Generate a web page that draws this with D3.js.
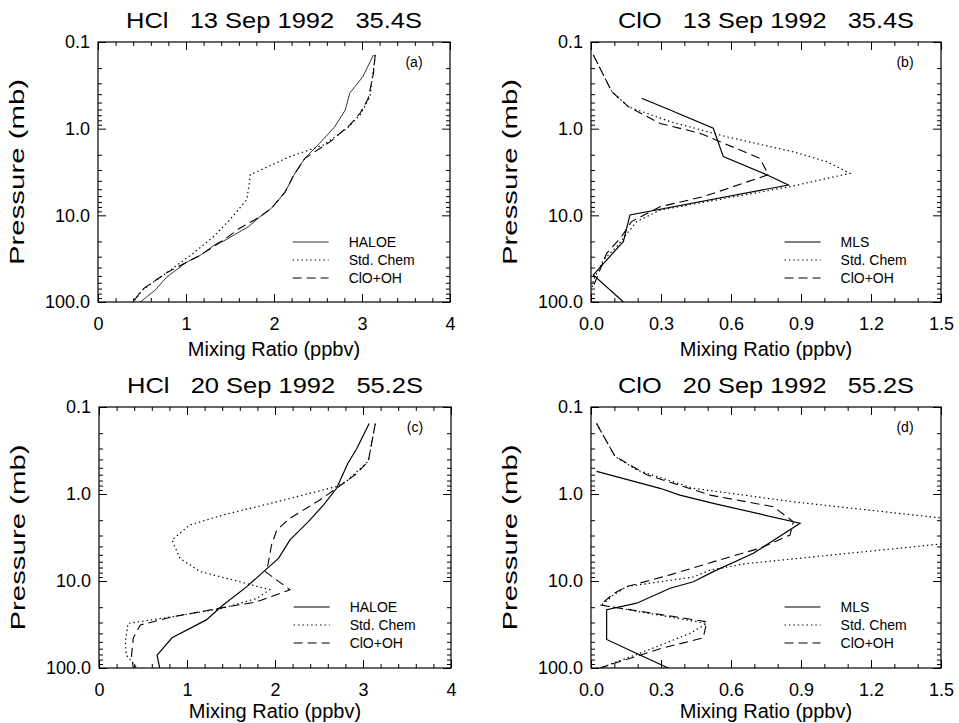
<!DOCTYPE html>
<html>
<head>
<meta charset="utf-8">
<script src="https://cdn.jsdelivr.net/npm/d3@7"></script>
<style>
  body { margin: 0; background: #fff; }
  svg text { font-family: "Liberation Sans", Arial, Helvetica, sans-serif; fill: #000; }
</style>
</head>
<body>
<div id="chart"></div>
<script>
// values are [mixing ratio (ppbv), pressure (mb)]
const hcl13Haloe = [[3.13,0.141],[3.01,0.251],[2.86,0.39],[2.81,0.61],[2.69,0.95],[2.52,1.47],[2.35,2.2],[2.22,3.5],[2.18,4.25],[2.125,5.4],[1.97,8.3],[1.84,10.4],[1.71,13.5],[1.42,20],[1.35,21],[1.16,29],[1.01,34.6],[0.78,51.6],[0.65,72.9],[0.48,100]];
const hcl13Std = [[3.15,0.141],[3.09,0.43],[2.98,0.69],[2.83,0.99],[2.56,1.55],[2.18,2.1],[1.73,3.4],[1.72,4.25],[1.69,6.6],[1.5,11.2],[1.31,17.7],[1.08,27.5],[0.78,46],[0.51,72],[0.40,100]];
const hcl13Cloh = [[3.15,0.141],[3.13,0.23],[3.07,0.45],[2.98,0.66],[2.86,0.91],[2.64,1.41],[2.35,2.2],[2.22,3.5],[2.125,5.4],[1.97,8.3],[1.84,10.4],[1.61,14.1],[1.42,19.5],[1.16,29],[1.01,34.6],[0.78,46],[0.50,72],[0.40,100]];

const clo13Mls = [[0.217,0.446],[0.339,0.61],[0.524,0.99],[0.567,2.1],[0.753,3.4],[0.846,4.47],[0.167,9.9],[0.139,20],[0.01,48.6],[0.139,100]];
const clo13Std = [[0.01,0.141],[0.089,0.374],[0.16,0.557],[0.339,0.83],[0.581,1.24],[0.867,1.85],[1.01,2.4],[1.11,3.27],[0.853,4.67],[0.296,8.7],[0.196,11.8],[0.16,15.5],[0.11,23],[0.053,32.7],[0.01,56],[0.005,69]];
const clo13Cloh = [[0.01,0.141],[0.089,0.374],[0.16,0.557],[0.296,0.87],[0.467,1.13],[0.724,2.2],[0.746,2.86],[0.76,3.4],[0.481,6.1],[0.296,7.95],[0.174,11.8],[0.131,17.6],[0.067,27.5],[0.01,66]];

const hcl20Haloe = [[3.07,0.155],[2.93,0.30],[2.83,0.44],[2.70,0.86],[2.55,1.34],[2.38,2.08],[2.17,3.37],[2.04,5.5],[1.87,7.8],[1.68,11.6],[1.41,18.9],[1.22,28],[0.83,45],[0.66,71],[0.69,100]];
const hcl20Std = [[3.14,0.155],[3.06,0.42],[2.81,0.72],[2.70,0.82],[2.02,1.23],[1.41,1.74],[1.03,2.27],[0.83,3.37],[0.92,5.5],[1.15,7.8],[1.60,10.2],[1.94,12.6],[1.79,15.9],[1.41,20.5],[0.84,25.7],[0.33,30.7],[0.30,50],[0.31,71],[0.43,100]];
const hcl20Cloh = [[3.14,0.155],[3.06,0.42],[2.93,0.58],[2.70,0.86],[2.51,1.17],[2.17,1.9],[2.02,2.6],[1.96,3.86],[1.92,6.5],[1.89,7.8],[2.17,12.6],[1.79,17.4],[1.375,20.5],[0.84,25.7],[0.47,32],[0.39,45],[0.37,71],[0.39,100]];

const clo20Mls = [[0.024,0.55],[0.296,0.86],[0.381,1.03],[0.524,1.28],[0.896,2.17],[0.696,4.8],[0.524,7.8],[0.439,10.2],[0.339,12.1],[0.196,18],[0.067,21.4],[0.067,47],[0.196,68],[0.331,100]];
const clo20Std = [[0.024,0.155],[0.103,0.37],[0.196,0.53],[0.439,0.86],[0.867,1.23],[1.32,1.67],[2.03,2.69],[1.32,4.2],[0.667,6.3],[0.51,7.5],[0.439,9.0],[0.296,10.2],[0.153,11.6],[0.096,14.5],[0.046,18.9],[0.496,30.8],[0.424,40],[0.281,57],[0.153,77],[0.039,100]];
const clo20Cloh = [[0.024,0.155],[0.103,0.37],[0.239,0.6],[0.51,1.03],[0.781,1.4],[0.867,2.08],[0.853,2.96],[0.724,4.2],[0.553,5.7],[0.339,8.5],[0.153,11.6],[0.096,14],[0.039,18.9],[0.496,29.4],[0.481,45],[0.296,60],[0.039,100]];

const titles = ["HCl   13 Sep 1992   35.4S", "ClO   13 Sep 1992   35.4S", "HCl   20 Sep 1992   55.2S", "ClO   20 Sep 1992   55.2S"];
const panelTags = ["(a)", "(b)", "(c)", "(d)"];
const hclTicks = [0, 1, 2, 3, 4];
const cloTicks = [0, 0.3, 0.6, 0.9, 1.2, 1.5];
const pressureTicks = [0.1, 1, 10, 100];
const hclNames = ["HALOE", "Std. Chem", "ClO+OH"];
const cloNames = ["MLS", "Std. Chem", "ClO+OH"];

function init() {
    let w = 959;
    let h = 723;

    let svg = d3.select("#chart")
        .append("svg")
        .attr("width", w)
        .attr("height", h);

    const styles = [
        { dash: null, width: 1.1 },
        { dash: "1.4,3", width: 1.2 },
        { dash: "9,5", width: 1.1 }
    ];

    const panels = [
        { x0: 98, x1: 450, y0: 42, y1: 302, max: 4, ticks: hclTicks, fmt: d3.format("d"), step: 0.2, names: hclNames, series: [hcl13Haloe, hcl13Std, hcl13Cloh], solidW: 0.8, xt: 54 },
        { x0: 591, x1: 941, y0: 42, y1: 302, max: 1.5, ticks: cloTicks, fmt: d3.format(".1f"), step: 0.1, names: cloNames, series: [clo13Mls, clo13Std, clo13Cloh], solidW: 1.2, xt: 54 },
        { x0: 99, x1: 451, y0: 407, y1: 668, max: 4, ticks: hclTicks, fmt: d3.format("d"), step: 0.2, names: hclNames, series: [hcl20Haloe, hcl20Std, hcl20Cloh], solidW: 1.2, xt: 50 },
        { x0: 591, x1: 941, y0: 407, y1: 668, max: 1.5, ticks: cloTicks, fmt: d3.format(".1f"), step: 0.1, names: cloNames, series: [clo20Mls, clo20Std, clo20Cloh], solidW: 1.2, xt: 50 }
    ];

    // minor log ticks 2..9 in each decade
    let minorP = [];
    [0.1, 1, 10].forEach(function (dec) {
        for (let k = 2; k <= 9; k++) minorP.push(dec * k);
    });

    panels.forEach(function (p, i) {
        let x = d3.scaleLinear().domain([0, p.max]).range([p.x0, p.x1]);
        let y = d3.scaleLog().domain([0.1, 100]).range([p.y0, p.y1]);
        let minorX = d3.range(0, p.max + 1e-9, p.step).filter(function (v) {
            return !p.ticks.some(function (t) { return Math.abs(t - v) < 1e-6; });
        });

        let g = svg.append("g");

        // clip for curves
        svg.append("clipPath").attr("id", "clip" + i)
            .append("rect")
            .attr("x", p.x0).attr("y", p.y0)
            .attr("width", p.x1 - p.x0).attr("height", p.y1 - p.y0);

        // axes: inner ticks on all four sides
        function ax(axisFn, scale, vals, size, pos, labels, fmt, pad) {
            let a = axisFn(scale).tickValues(vals).tickSizeInner(-size).tickSizeOuter(0).tickPadding(pad || 8);
            a.tickFormat(labels ? fmt : "");
            let sel = g.append("g").attr("transform", pos).call(a);
            sel.select(".domain").remove();
            sel.selectAll("line").attr("stroke", "#000").attr("stroke-width", 1);
            sel.selectAll("text").attr("font-size", "18px").attr("fill", "#000");
            return sel;
        }
        ax(d3.axisBottom, x, minorX, 4, "translate(0," + p.y1 + ")", false);
        ax(d3.axisBottom, x, p.ticks, 8, "translate(0," + p.y1 + ")", true, p.fmt, 15);
        ax(d3.axisTop, x, minorX, 4, "translate(0," + p.y0 + ")", false);
        ax(d3.axisTop, x, p.ticks, 8, "translate(0," + p.y0 + ")", false);
        ax(d3.axisLeft, y, minorP, 4, "translate(" + p.x0 + ",0)", false);
        ax(d3.axisLeft, y, pressureTicks, 8, "translate(" + p.x0 + ",0)", true, d3.format(".1f"), 8);
        ax(d3.axisRight, y, minorP, 4, "translate(" + p.x1 + ",0)", false);
        ax(d3.axisRight, y, pressureTicks, 8, "translate(" + p.x1 + ",0)", false);

        g.append("rect")
            .attr("x", p.x0).attr("y", p.y0)
            .attr("width", p.x1 - p.x0).attr("height", p.y1 - p.y0)
            .attr("fill", "none").attr("stroke", "#000").attr("stroke-width", 1.2);

        let line = d3.line()
            .x(function (d) { return x(d[0]); })
            .y(function (d) { return y(d[1]); });

        p.series.forEach(function (s, k) {
            g.append("path")
                .attr("d", line(s))
                .attr("clip-path", "url(#clip" + i + ")")
                .attr("fill", "none")
                .attr("stroke", "#000")
                .attr("stroke-width", k == 0 ? p.solidW : styles[k].width)
                .attr("stroke-dasharray", styles[k].dash);
        });

        // legend
        let lx = p.x0 + 0.553 * (p.x1 - p.x0);
        p.names.forEach(function (name, k) {
            let ly = p.y0 + 200 + k * 18;
            g.append("line")
                .attr("x1", lx).attr("x2", lx + 36)
                .attr("y1", ly).attr("y2", ly)
                .attr("stroke", "#000")
                .attr("stroke-width", k == 0 ? p.solidW : styles[k].width)
                .attr("stroke-dasharray", styles[k].dash);
            g.append("text")
                .attr("x", lx + 56).attr("y", ly + 5)
                .attr("font-size", "14px")
                .text(name);
        });

        g.append("text")
            .attr("x", p.x1 - 36).attr("y", p.y0 + 25)
            .attr("text-anchor", "middle")
            .attr("font-size", "14px")
            .text(panelTags[i]);

        // titles
        g.append("text")
            .attr("x", (p.x0 + p.x1) / 2).attr("y", p.y0 - 14)
            .attr("text-anchor", "middle")
            .attr("font-size", "22px")
            .style("white-space", "pre")
            .attr("textLength", 296)
            .attr("lengthAdjust", "spacingAndGlyphs")
            .text(titles[i]);

        g.append("text")
            .attr("x", (p.x0 + p.x1) / 2).attr("y", p.y1 + p.xt)
            .attr("text-anchor", "middle")
            .attr("font-size", "20px")
            .text("Mixing Ratio (ppbv)");

        g.append("text")
            .attr("transform", "translate(" + (p.x0 - 74) + "," + ((p.y0 + p.y1) / 2) + ") rotate(-90)")
            .attr("text-anchor", "middle")
            .attr("font-size", "21px")
            .attr("textLength", 186)
            .attr("lengthAdjust", "spacingAndGlyphs")
            .text("Pressure (mb)");
    });
}

window.onload = init;
</script>
</body>
</html>
